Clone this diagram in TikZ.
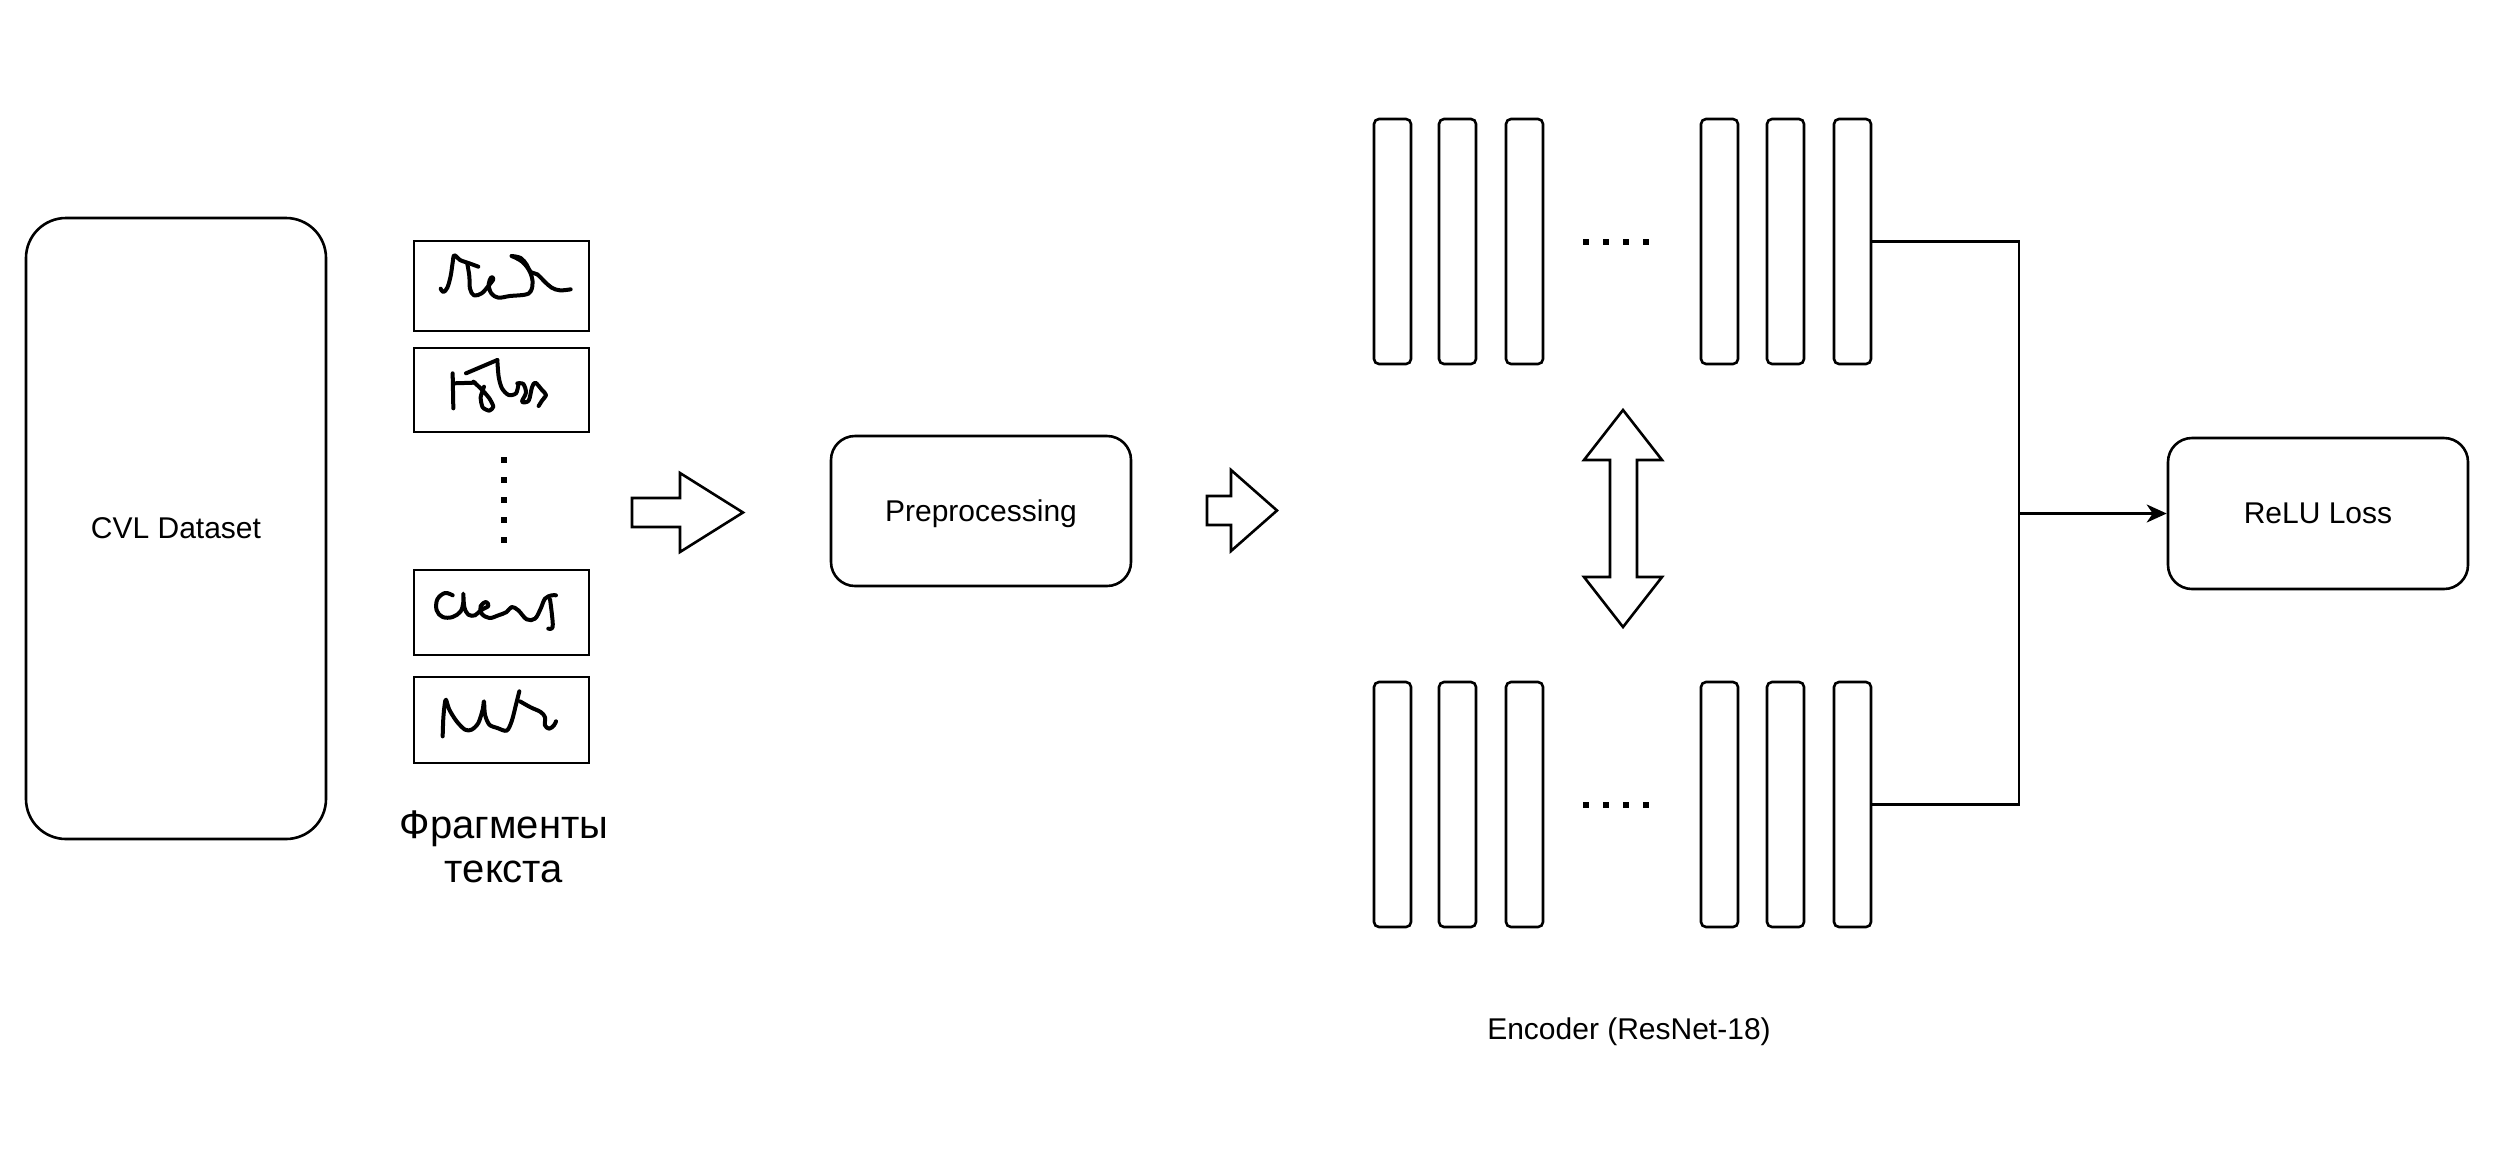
\documentclass[tikz,border=0pt]{standalone}
\usepackage{fontspec}
\setmainfont{Liberation Sans}
\usetikzlibrary{arrows.meta}
\begin{document}
\begin{tikzpicture}[x=0.5pt,y=-0.5pt,line width=1.3pt,
  rbox/.style={draw,rounded corners=#1,inner sep=0pt,align=center,text depth=0pt,font=\fontsize{15}{18}\selectfont},
  frag/.style={draw,inner sep=0pt,minimum width=87.5pt},
  bar/.style={draw,rounded corners=2.5pt,inner sep=0pt,minimum width=18.5pt,minimum height=122.5pt},
  lbl/.style={inner sep=0pt,align=center,font=\fontsize{15}{18}\selectfont},
  scrib/.style={line width=2pt,line cap=round,line join=round},
  blockarrow/.style={draw,line join=miter}]
\useasboundingbox (0,0) rectangle (2516,1152);

% CVL dataset
\node[rbox=20pt,minimum width=150pt,minimum height=310.5pt] (cvl) at (176,528.5) {CVL Dataset};

% fragment frames
\node[frag,minimum height=45pt] (f1) at (501.5,286) {};
\node[frag,minimum height=42pt] (f2) at (501.5,390) {};
\node[frag,minimum height=42.5pt] (f3) at (501.5,612.5) {};
\node[frag,minimum height=43pt] (f4) at (501.5,720) {};
\foreach \k in {0,...,4} \fill (501,457+20*\k) rectangle +(6,6);
\node[inner sep=0pt,align=center,font=\fontsize{20}{22}\selectfont] (fraglbl) at (504,847) {Фрагменты\\текста};

% scribbles
\begin{scope}[shift={(410,236)},scale=0.3333]
  \draw[scrib] plot[smooth,tension=0.6] coordinates {(92,158) (100,168) (112,155) (122,120) (128,80) (133,58) (150,72) (178,82) (205,92)};
  \draw[scrib] plot[smooth,tension=0.6] coordinates {(172,84) (178,120) (180,158) (192,178) (215,172) (235,150) (250,130) (244,124) (236,145) (244,172) (265,185) (300,180) (345,176) (362,166) (368,138) (358,104) (335,76) (305,60)};
  \draw[scrib] plot[smooth,tension=0.6] coordinates {(305,60) (332,66) (350,86) (362,108) (382,115) (402,135) (425,155) (450,163) (482,160)};
  \fill (358,170) circle[radius=2pt];
  \fill[rotate around={25:(325,68)}] (325,68) ellipse[x radius=4pt,y radius=1.8pt];
\end{scope}
\begin{scope}[shift={(410,340)},scale=0.3333]
  \draw[scrib] (128,100) -- (130,205);
  \fill (126,114) ellipse[x radius=1.8pt,y radius=3.5pt];
  \draw[scrib] (130,130) -- (195,128);
  \draw[scrib] (168,100) -- (262,60);
  \draw[scrib] plot[smooth,tension=0.5] coordinates {(262,60) (266,110) (276,145) (296,165) (318,160) (325,135)};
  \draw[scrib] plot[smooth,tension=0.4] coordinates {(190,125) (215,148) (238,175) (250,200) (238,212) (218,202) (212,172) (222,140)};
  \draw[scrib] plot[smooth,tension=0.5] coordinates {(322,130) (340,132) (348,158) (336,185) (356,182) (366,142) (376,128) (396,150) (408,165) (396,182) (386,198)};
  \fill (400,172) circle[radius=2pt];
\end{scope}
\begin{scope}[shift={(410,562)},scale=0.3333]
  \draw[scrib] plot[smooth,tension=0.6] coordinates {(128,100) (105,93) (82,112) (80,145) (98,165) (128,165) (152,148) (160,120) (160,95) (163,135) (175,158) (195,160) (212,145) (235,132) (228,120) (212,132) (215,155) (238,168) (265,160) (290,150) (305,135) (325,145) (350,172) (375,170) (392,140) (405,110) (425,100) (438,100)};
  \draw[scrib] plot[smooth,tension=0.6] coordinates {(420,112) (425,150) (428,195) (415,200)};
\end{scope}
\begin{scope}[shift={(410,668)},scale=0.3333]
  \draw[scrib] plot[smooth,tension=0.5] coordinates {(98,205) (100,150) (104,110) (108,95) (118,125) (140,160) (165,185) (185,185) (205,165) (218,125) (222,100) (225,140) (238,170) (262,180) (290,188) (305,160) (318,110) (328,70)};
  \draw[scrib] plot[smooth,tension=0.6] coordinates {(330,100) (362,118) (392,132) (405,148) (405,172) (418,182) (432,172) (438,160)};
  \fill (108,97) ellipse[x radius=1.8pt,y radius=3pt];
  \fill (180,184) circle[radius=2.2pt];
  \fill (222,102) ellipse[x radius=1.8pt,y radius=3pt];
  \fill (292,186) circle[radius=2.2pt];
  \fill (328,72) ellipse[x radius=1.8pt,y radius=3pt];
\end{scope}

% block arrow 1
\draw[blockarrow] (632,498) -- (680,498) -- (680,473) -- (743,512.5) -- (680,552) -- (680,527) -- (632,527) -- cycle;

% preprocessing
\node[rbox=12pt,minimum width=150pt,minimum height=75pt] (pre) at (981,511) {Preprocessing};

% block arrow 2
\draw[blockarrow] (1207,496) -- (1231,496) -- (1231,470) -- (1277,510.5) -- (1231,551) -- (1231,525) -- (1207,525) -- cycle;

% encoder bars
\foreach \n/\cx in {1/1392.5,2/1457.5,3/1524.5,4/1719.5,5/1785.5,6/1852.5}{
  \node[bar] (t\n) at (\cx,241.5) {};
  \node[bar] (b\n) at (\cx,804.5) {};
}
\foreach \dx in {1586,1606,1626,1646}{
  \fill (\dx-3,239) rectangle +(6,6);
  \fill (\dx-3,802) rectangle +(6,6);
}

% double arrow
\draw[blockarrow] (1623,410) -- (1662,460) -- (1637,460) -- (1637,577) -- (1662,577) -- (1623,627) -- (1584,577) -- (1610,577) -- (1610,460) -- (1584,460) -- cycle;

% ReLU loss
\node[rbox=12pt,minimum width=150pt,minimum height=75.5pt] (relu) at (2318,513.5) {ReLU Loss};

% connectors
\coordinate (j) at (2019,513.5);
\draw (t6.east) -| (j) |- (b6.east);
\draw[-{Stealth[length=10pt,width=9pt,inset=3pt]}] (j) -- (relu.west);

% encoder label
\node[lbl] (enc) at (1629,1032) {Encoder (ResNet-18)};
\end{tikzpicture}
\end{document}
